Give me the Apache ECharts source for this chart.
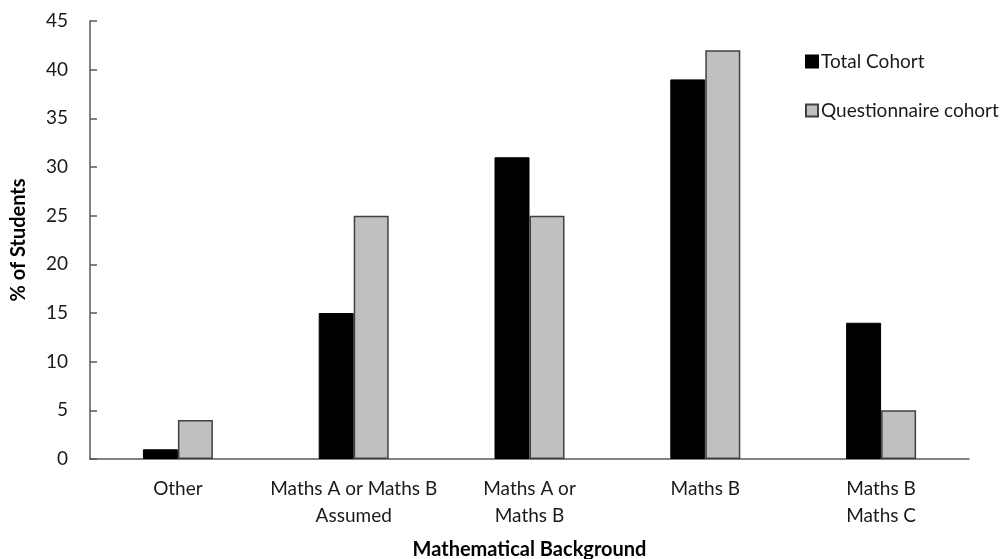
<!DOCTYPE html>
<html>
<head>
<meta charset="utf-8">
<script src="https://cdn.jsdelivr.net/npm/echarts@6/dist/echarts.min.js"></script>
<style>
  html, body { margin: 0; padding: 0; background: #fff; }
  #chart { width: 1008px; height: 559px; }
</style>
</head>
<body>
<div id="chart"></div>
<script>
// Mathematical background of students, by cohort (% of students)
const categories = ['Other', 'Maths A or Maths B\nAssumed', 'Maths A or\nMaths B', 'Maths B', 'Maths B\nMaths C'];
const totalCohort = [1, 15, 31, 39, 14];
const questionnaireCohort = [4, 25, 25, 42, 5];
const yTicks = [0, 5, 10, 15, 20, 25, 30, 35, 40, 45];

const FONT = 'Lato, "Open Sans", "Liberation Sans", sans-serif';
const AXIS_COLOR = '#595959';
const TEXT_COLOR = '#1a1a1a';

const chart = echarts.init(document.getElementById('chart'), null, { renderer: 'canvas' });

chart.setOption({
  animation: false,
  backgroundColor: '#ffffff',
  textStyle: { fontFamily: FONT, color: TEXT_COLOR },
  grid: { left: 90, right: 39, top: 21, bottom: 100, containLabel: false, outerBoundsMode: 'none' },
  legend: {
    orient: 'vertical',
    left: 800,
    top: 47,
    itemWidth: 12,
    itemHeight: 12,
    itemGap: 30,
    icon: 'rect',
    textStyle: { fontFamily: FONT, fontSize: 19, color: TEXT_COLOR, padding: [0, 0, 0, -2] },
    data: ['Total Cohort', 'Questionnaire cohort']
  },
  xAxis: {
    type: 'category',
    data: categories,
    name: 'Mathematical Background',
    nameLocation: 'middle',
    nameGap: 81,
    nameTextStyle: { fontFamily: FONT, fontSize: 20, fontWeight: 'bold', color: '#000' },
    axisLine: { lineStyle: { color: AXIS_COLOR, width: 1.5 } },
    axisTick: { inside: true, length: 7, alignWithLabel: false, lineStyle: { color: AXIS_COLOR, width: 1.5 } },
    axisLabel: { fontFamily: FONT, fontSize: 19, color: TEXT_COLOR, margin: 16, lineHeight: 27, interval: 0 },
    splitLine: { show: false }
  },
  yAxis: {
    type: 'value',
    min: yTicks[0],
    max: yTicks[yTicks.length - 1],
    interval: yTicks[1] - yTicks[0],
    name: '% of Students',
    nameLocation: 'middle',
    nameGap: 61,
    nameTextStyle: { fontFamily: FONT, fontSize: 20, fontWeight: 'bold', color: '#000' },
    axisLine: { show: true, lineStyle: { color: AXIS_COLOR, width: 1.5 } },
    axisTick: { show: true, inside: true, length: 7, lineStyle: { color: AXIS_COLOR, width: 1.5 } },
    axisLabel: { fontFamily: FONT, fontSize: 19, color: TEXT_COLOR, margin: 22 },
    splitLine: { show: false }
  },
  series: [
    {
      name: 'Total Cohort',
      type: 'bar',
      data: totalCohort,
      barWidth: 35,
      barGap: '0%',
      itemStyle: { color: '#000000', borderColor: '#000000', borderWidth: 1 }
    },
    {
      name: 'Questionnaire cohort',
      type: 'bar',
      data: questionnaireCohort,
      barWidth: 35,
      barGap: '0%',
      itemStyle: { color: '#c0c0c0', borderColor: '#404040', borderWidth: 1.5 }
    }
  ]
});
</script>
</body>
</html>
